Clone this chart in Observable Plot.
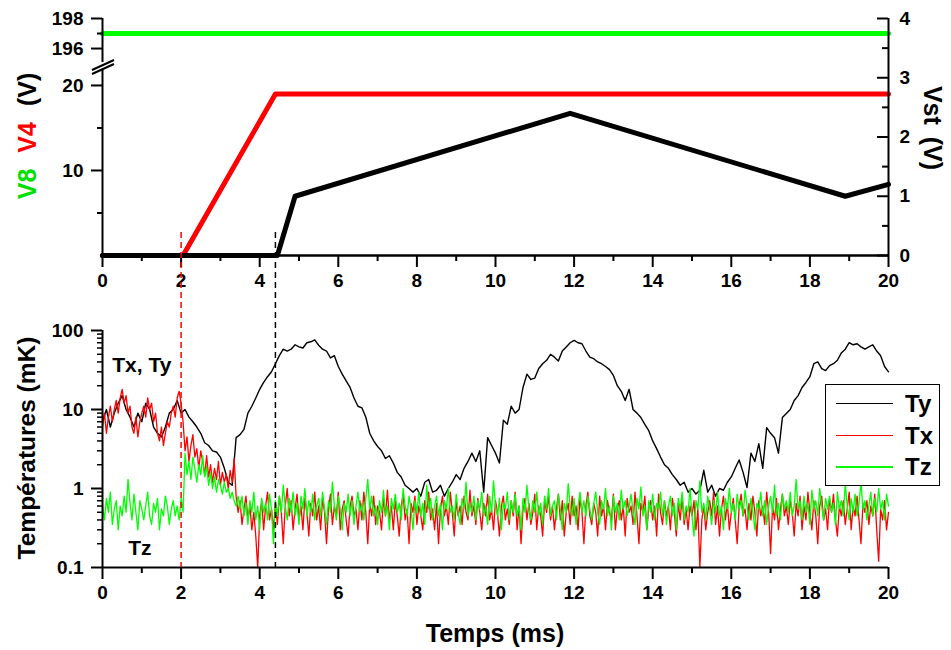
<!DOCTYPE html>
<html><head><meta charset="utf-8">
<script src="https://cdn.jsdelivr.net/npm/d3@7"></script>
<script src="https://cdn.jsdelivr.net/npm/@observablehq/plot@0.6"></script>
<style>
body{margin:0;background:#fff;}
#wrap{position:relative;width:951px;height:650px;font-family:"Liberation Sans",Arial,sans-serif;font-weight:bold;overflow:hidden;background:#fff;}
#wrap svg.plotsvg{position:absolute;left:0;top:0;}
.lbl{position:absolute;white-space:nowrap;font-size:22px;font-weight:bold;transform-origin:center center;}
.gap{display:inline-block;width:16px;}
</style></head><body><div id="wrap"></div><script>
// ---------- Top panel data ----------
const vstT = [0, 4.45, 4.9, 11.9, 18.9, 20];
const vstV = [0, 0, 1.0, 2.4, 1.0, 1.2];
const v4T = [0, 2.05, 4.4, 20];
const v4V = [0, 0, 19, 19];
const v8T = [0, 20];
const v8V = [197, 197];

// ---------- Tick values ----------
const xMajor = [0, 2, 4, 6, 8, 10, 12, 14, 16, 18, 20];
const xMinor = [1, 3, 5, 7, 9, 11, 13, 15, 17, 19];
const vstMajor = [0, 1, 2, 3, 4];
const vstMinor = [0.5, 1.5, 2.5, 3.5];
const v4Major = [10, 20];
const v4Minor = [5, 15];
const v8Major = [196, 198];
const v8Minor = [197];
const tMajor = [0.1, 1, 10, 100];
const tMinor = [0.2,0.3,0.4,0.5,0.6,0.7,0.8,0.9,2,3,4,5,6,7,8,9,20,30,40,50,60,70,80,90];

// ---------- Bottom panel data (mK) ----------
const tyStep = 0.1;   // ms between Ty samples
const tyValues = [
7,10,6,9,12,15,10,8,6,9,
7,12,10,6,5,4.5,6,9,10,13,
9,10,8,7,6,5,3.8,3.5,3,2.9,
2.5,1.8,1.2,1.1,4.4,4.8,5.6,9,11,14,
18,22,26,30,38,48,58,55,58,66,
62,60,70,72,76,65,58,55,45,48,
35,28,23,19,14,11,10.5,8,5,4,
3.4,3,2.4,2.6,2.1,1.6,1.4,1.1,1.0,0.9,
1.0,0.8,1.2,1.3,0.9,0.95,1.1,0.8,1.0,1.2,
1.5,1.3,1.8,2.2,2.8,2.2,3.0,0.9,4.4,3.5,
2.8,2.1,7.3,6.5,11,9,10,19,28,24,
25,33,38,42,50,46,41,55,62,70,
75,70,68,55,46,44,40,38,35,32,
27,20,17,13,18,10,9,7.9,6.5,5.4,
4,3.2,2.5,2,1.8,1.5,1.3,1.1,1.2,0.9,
1.0,0.85,0.95,1.7,0.9,1.1,0.8,1.0,0.95,1.2,
1.4,1.8,2.3,1.6,1.03,2.8,2.2,3.7,1.8,5.9,
5,4.4,2.8,7.9,8.9,10,13,15,19,22,
26,38,40,33,31,36,38,42,52,58,
70,66,68,62,58,62,66,55,48,35,
30];

const txzStep = 0.05; // ms between Tx / Tz samples
const txValues = [
6,9,5,8,11,7,10,13,9,14,18,12,15,9,11,6,5,8,4.5,7,
9,11,8,14,10,12,7,9,5,4,6,3.5,5,7,6,9,11,8,14,17,12,
7,3,4.5,2.2,3.5,4.8,2.5,3.2,1.8,3,2.2,1.5,2.6,1.4,2,1.2,1.8,1.3,2.2,1.1,1.6,1.2,1.5,1.0,1.7,1.2,2.4,0.8,
0.5,0.7,0.35,0.55,0.8,0.4,0.6,0.3,0.5,0.25,0.1,0.45,0.7,0.3,0.6,0.9,0.4,0.55,0.3,0.65,
0.35,0.8,0.5,0.2,0.6,1.0,0.45,0.7,0.3,0.55,0.85,0.4,0.6,0.3,0.75,0.5,0.25,0.65,0.45,0.9,
0.4,0.6,0.3,0.75,0.5,0.2,0.55,0.85,0.35,0.6,0.45,0.9,0.3,0.55,0.7,0.4,0.25,0.6,0.8,0.45,
0.55,0.3,0.7,0.4,0.9,0.5,0.2,0.65,0.45,0.8,0.35,0.6,0.5,0.3,0.75,0.45,0.95,0.4,0.6,0.3,
0.7,0.45,0.25,0.6,0.85,0.4,0.55,0.2,0.65,0.5,0.8,0.35,0.6,0.45,0.3,0.7,0.5,0.9,0.4,0.55,
0.3,0.65,0.2,0.55,0.8,0.45,0.6,0.35,0.9,0.5,0.25,0.7,0.45,0.6,0.35,0.8,0.5,0.4,0.95,0.45,
0.6,0.35,0.75,0.5,0.3,0.65,0.45,0.85,0.4,0.55,0.3,0.7,0.5,0.25,0.6,0.8,0.4,0.55,0.35,0.7,
0.45,0.9,0.3,0.6,0.2,0.55,0.75,0.4,0.65,0.35,0.5,0.85,0.3,0.6,0.45,0.25,0.7,0.5,0.8,0.4,
0.6,0.3,0.55,0.85,0.4,0.7,0.25,0.5,0.65,0.35,0.8,0.45,0.6,0.3,0.75,0.5,0.2,0.6,0.9,0.45,
0.35,0.65,0.5,0.25,0.8,0.45,0.6,0.3,0.7,0.5,0.4,0.85,0.3,0.55,0.7,0.4,0.6,0.25,0.75,0.5,
0.6,0.35,0.9,0.45,0.2,0.65,0.5,0.8,0.3,0.55,0.7,0.4,0.6,0.25,0.85,0.5,0.35,0.7,0.45,0.6,
0.3,0.75,0.5,0.25,0.65,0.4,0.8,0.35,0.55,0.3,0.6,0.45,0.7,0.3,0.55,0.1,0.4,0.6,0.3,0.5,
0.7,0.45,0.9,0.35,0.6,0.25,0.55,0.8,0.4,0.65,0.3,0.5,0.75,0.4,0.2,0.6,0.85,0.45,0.55,0.3,
0.65,0.4,0.8,0.5,0.25,0.7,0.45,0.6,0.35,0.9,0.5,0.15,0.6,0.4,0.75,0.3,0.55,0.85,0.45,0.6,
0.35,0.7,0.5,0.25,0.65,0.45,0.8,0.3,0.6,0.4,0.9,0.5,0.3,0.7,0.45,0.2,0.6,0.8,0.4,0.55,
0.3,0.75,0.5,0.85,0.4,0.25,0.6,0.45,0.7,0.35,0.55,0.9,0.3,0.6,0.45,0.8,0.4,0.2,0.65,0.5,
0.7,0.35,0.6,0.45,0.85,0.3,0.12,0.55,0.4,0.7,0.3,0.5];

const tzValues = [
0.6,0.4,0.75,0.5,0.9,0.35,0.55,0.7,0.3,0.6,0.45,0.8,0.5,1.3,0.65,0.4,0.85,0.5,0.3,0.7,
0.55,0.4,0.6,0.9,0.45,0.35,0.65,0.5,0.75,0.3,0.55,0.45,0.8,0.6,0.35,0.55,0.7,0.45,0.6,0.4,0.75,0.5,
2.8,1.5,2.2,1.3,2.5,1.8,1.2,2.0,1.5,2.6,1.4,1.9,1.1,1.6,1.0,1.4,0.9,1.3,1.1,0.85,1.2,0.9,1.0,0.75,0.9,0.7,0.6,0.8,
0.55,0.8,0.45,0.65,0.35,0.7,0.5,0.9,0.4,0.6,0.3,0.75,0.5,0.65,0.4,0.85,0.55,0.2,0.7,0.45,
0.8,0.5,1.1,0.6,0.4,0.75,0.5,0.9,0.45,0.65,0.35,0.8,0.55,1.0,0.45,0.7,0.5,0.85,0.4,0.6,
0.75,0.45,0.9,0.55,0.35,0.7,0.5,1.2,0.6,0.4,0.8,0.55,0.3,0.65,0.5,0.85,0.45,0.7,0.35,0.6,
0.9,0.5,0.65,0.4,0.75,1.3,0.55,0.8,0.45,0.6,0.35,0.7,0.5,0.95,0.45,0.6,0.3,0.75,0.55,0.85,
0.5,0.65,0.4,1.0,0.6,0.45,0.8,0.55,0.3,0.7,0.5,0.9,0.45,0.65,0.35,1.1,0.55,0.75,0.4,0.6,
0.8,0.45,0.65,0.3,0.7,0.55,1.0,0.5,0.6,0.4,0.85,0.5,0.35,0.75,0.55,1.2,0.45,0.65,0.5,0.8,
0.4,0.7,0.55,0.9,0.45,0.6,0.35,0.8,0.5,1.25,0.6,0.45,0.75,0.3,0.65,0.55,0.9,0.4,0.7,0.5,
0.85,0.45,0.6,0.3,0.75,0.5,1.1,0.55,0.4,0.7,0.5,0.9,0.45,0.65,0.35,0.8,0.55,1.0,0.45,0.6,
0.7,0.4,0.85,0.55,0.3,0.65,0.5,1.15,0.6,0.45,0.75,0.35,0.6,0.9,0.5,0.7,0.45,0.8,0.55,0.4,
0.65,0.9,0.5,0.35,0.7,0.55,1.0,0.45,0.6,0.3,0.8,0.5,0.65,0.4,0.95,0.55,0.7,0.45,0.6,0.85,
0.5,0.35,0.75,0.55,1.05,0.45,0.6,0.3,0.7,0.5,0.85,0.4,0.65,0.55,0.9,0.45,0.7,0.35,0.6,0.8,
0.45,0.65,0.3,0.75,0.55,0.9,0.4,0.6,0.5,1.0,0.45,0.25,0.7,0.55,1.25,0.5,0.65,0.4,0.8,0.55,
0.35,0.7,0.5,0.9,0.45,0.6,0.3,0.75,0.55,1.0,0.5,0.65,0.4,0.85,0.55,0.7,0.45,0.95,0.6,0.4,
0.75,0.5,0.3,0.65,0.55,0.9,0.45,0.7,0.35,0.6,0.8,0.5,1.1,0.45,0.65,0.4,0.85,0.55,0.7,0.5,
0.9,0.45,0.6,1.3,0.55,0.7,0.4,0.8,0.5,0.65,0.35,0.95,0.55,0.7,0.45,1.0,0.6,0.4,0.75,0.55,
0.8,0.5,0.65,0.35,0.9,0.55,0.7,0.45,1.15,0.6,0.4,0.75,0.5,0.85,0.45,0.65,1.2,0.55,0.7,0.4,
0.6,0.9,0.45,0.75,0.5,1.0,0.55,0.7,0.4,0.85,0.6];

// Annotations and markers
const annotLabels = ["Tx, Ty", "Tz"];
const annotT = [1.0, 0.95];
const annotV = [36, 0.173];
const markerT = [2, 4.4];   // dashed vertical markers (ms)

// ---------- Build tables ----------
const zipTV = (ts, vs) => ts.map((t, i) => ({t, v: vs[i]}));
const vst = zipTV(vstT, vstV);
const v4 = zipTV(v4T, v4V);
const v8 = zipTV(v8T, v8V);
const ty = tyValues.map((v, i) => ({t: i * tyStep, v}));
const tx = txValues.map((v, i) => ({t: i * txzStep, v}));
const tz = tzValues.map((v, i) => ({t: i * txzStep, v}));
const annots = annotLabels.map((label, i) => ({label, t: annotT[i], v: annotV[i]}));

const RED = "#ff0000", GREEN = "#00ff00";
const W = 951, H = 650, ML = 102, MR = 63;
const common = {
  width: W, height: H, marginLeft: ML, marginRight: MR,
  style: {background: "transparent", fontFamily: "'Liberation Sans', Arial, sans-serif",
          fontSize: "19px", fontWeight: "bold", color: "black", overflow: "visible"}
};
const blank = () => "";
const fmt = d3.format("~g");

// V8 (upper left segment)
const p3 = Plot.plot({...common, marginTop: 18, marginBottom: H - 62,
  x: {domain: [0, 20], axis: null}, y: {domain: [195.07, 198], label: null},
  marks: [
    Plot.line(v8, {x: "t", y: "v", stroke: GREEN, strokeWidth: 5}),
    Plot.ruleX([0], {strokeWidth: 2}),
    Plot.axisY({ticks: v8Major, tickSize: 11, tickPadding: 8, strokeWidth: 2, tickFormat: fmt, label: null}),
    Plot.axisY({ticks: v8Minor, tickSize: 5, tickFormat: blank, strokeWidth: 2, label: null})
  ]});

// V4 (lower left segment)
const p2 = Plot.plot({...common, marginTop: 70, marginBottom: H - 255,
  x: {domain: [0, 20], axis: null}, y: {domain: [0, 21.76], label: null},
  marks: [
    Plot.line(v4, {x: "t", y: "v", stroke: RED, strokeWidth: 5}),
    Plot.ruleX([0], {strokeWidth: 2}),
    Plot.axisY({ticks: v4Major, tickSize: 11, tickPadding: 8, strokeWidth: 2, tickFormat: fmt, label: null}),
    Plot.axisY({ticks: v4Minor, tickSize: 5, tickFormat: blank, strokeWidth: 2, label: null})
  ]});

// Vst (right axis) + x axis of top panel
const p1 = Plot.plot({...common, marginTop: 18, marginBottom: H - 255,
  x: {domain: [0, 20], label: null}, y: {domain: [0, 4], label: null},
  marks: [
    Plot.line(vst, {x: "t", y: "v", stroke: "black", strokeWidth: 5}),
    Plot.ruleY([0], {strokeWidth: 2.5}),
    Plot.ruleX([20], {strokeWidth: 2}),
    Plot.axisX({ticks: xMajor, tickSize: 12, tickPadding: 6, strokeWidth: 2, tickFormat: fmt, label: null}),
    Plot.axisX({ticks: xMinor, tickSize: 6, tickFormat: blank, strokeWidth: 2, label: null}),
    Plot.axisY({anchor: "right", ticks: vstMajor, tickSize: 0, tickPadding: 11, tickFormat: fmt, label: null}),
    Plot.tickY(vstMajor, {y: d => d, insetLeft: (W - ML - MR) - 11, strokeWidth: 2}),
    Plot.tickY(vstMinor, {y: d => d, insetLeft: (W - ML - MR) - 6, strokeWidth: 2})
  ]});

// Temperatures (bottom panel)
const p4 = Plot.plot({...common, marginTop: 330, marginBottom: H - 567,
  x: {domain: [0, 20], label: null}, y: {type: "log", domain: [0.1, 100], label: null},
  marks: [
    Plot.line(ty, {x: "t", y: "v", stroke: "black", strokeWidth: 1.4}),
    Plot.line(tx, {x: "t", y: "v", stroke: RED, strokeWidth: 1.3}),
    Plot.line(tz, {x: "t", y: "v", stroke: GREEN, strokeWidth: 1.3}),
    Plot.ruleY([0.1], {strokeWidth: 2}),
    Plot.ruleX([0], {strokeWidth: 2}),
    Plot.axisX({ticks: xMajor, tickSize: 12, tickPadding: 6, strokeWidth: 2, tickFormat: fmt, label: null}),
    Plot.axisX({ticks: xMinor, tickSize: 6, tickFormat: blank, strokeWidth: 2, label: null}),
    Plot.axisY({ticks: tMajor, tickSize: 11, tickPadding: 8, strokeWidth: 2, tickFormat: fmt, label: null}),
    Plot.axisY({ticks: tMinor, tickSize: 5, tickFormat: blank, strokeWidth: 1.5, label: null}),
    Plot.text(annots, {x: "t", y: "v", text: "label", fontSize: 21, fontWeight: "bold", fill: "black"})
  ]});

// Dashed markers spanning both panels
const p5 = Plot.plot({...common, marginTop: 232, marginBottom: H - 567,
  x: {domain: [0, 20], axis: null},
  marks: [
    Plot.ruleX([markerT[0]], {stroke: RED, strokeWidth: 1.5, strokeDasharray: "6,4"}),
    Plot.ruleX([markerT[1]], {stroke: "black", strokeWidth: 1.5, strokeDasharray: "6,4"})
  ]});

const wrap = document.getElementById("wrap");
for (const p of [p3, p2, p1, p4, p5]) { p.classList.add("plotsvg"); wrap.appendChild(p); }

// axis break marks on left axis
const brk = document.createElementNS("http://www.w3.org/2000/svg", "svg");
brk.setAttribute("width", 30); brk.setAttribute("height", 20);
brk.setAttribute("class", "plotsvg");
brk.style.left = "88px"; brk.style.top = "56px";
brk.innerHTML = '<polygon points="4,14 26,4 26,8 4,18" fill="white"/>' +
  '<line x1="4" y1="14" x2="26" y2="4" stroke="black" stroke-width="2"/>' +
  '<line x1="4" y1="18" x2="26" y2="8" stroke="black" stroke-width="2"/>';
wrap.appendChild(brk);

// Text labels
function label(html, cx, cy, rot, size) {
  const d = document.createElement("div");
  d.className = "lbl";
  d.innerHTML = html;
  d.style.left = cx + "px"; d.style.top = cy + "px";
  d.style.fontSize = (size || 22) + "px";
  d.style.transform = `translate(-50%,-50%) rotate(${rot}deg)`;
  wrap.appendChild(d);
}
label('<span style="color:#00e000">V8</span><span class="gap"></span><span style="color:#ff0000">V4</span><span class="gap"></span>(V)', 27, 136, -90, 25);
label('Vst<span class="gap" style="width:12px"></span>(V)', 932, 128, 90, 25);
label("Températures (mK)", 27, 448, -90, 24.5);
label("Temps (ms)", 495, 633, 0, 25);

// Legend
const leg = document.createElement("div");
leg.style.cssText = "position:absolute;left:825px;top:384px;width:115px;height:102px;box-sizing:border-box;border:1.5px solid black;background:white;";
const legItems = [["Ty", "black"], ["Tx", RED], ["Tz", GREEN]];
legItems.forEach(([name, color], i) => {
  const y = 19 + i * 31.5;
  const ln = document.createElement("div");
  ln.style.cssText = `position:absolute;left:10px;top:${y - 1}px;width:57px;height:0;border-top:${name === "Tz" ? 2 : 1.5}px solid ${color};`;
  leg.appendChild(ln);
  const tx = document.createElement("div");
  tx.textContent = name;
  tx.style.cssText = `position:absolute;left:79px;top:${y - 14}px;font-size:24px;font-weight:bold;line-height:28px;`;
  leg.appendChild(tx);
});
wrap.appendChild(leg);
</script></body></html>
